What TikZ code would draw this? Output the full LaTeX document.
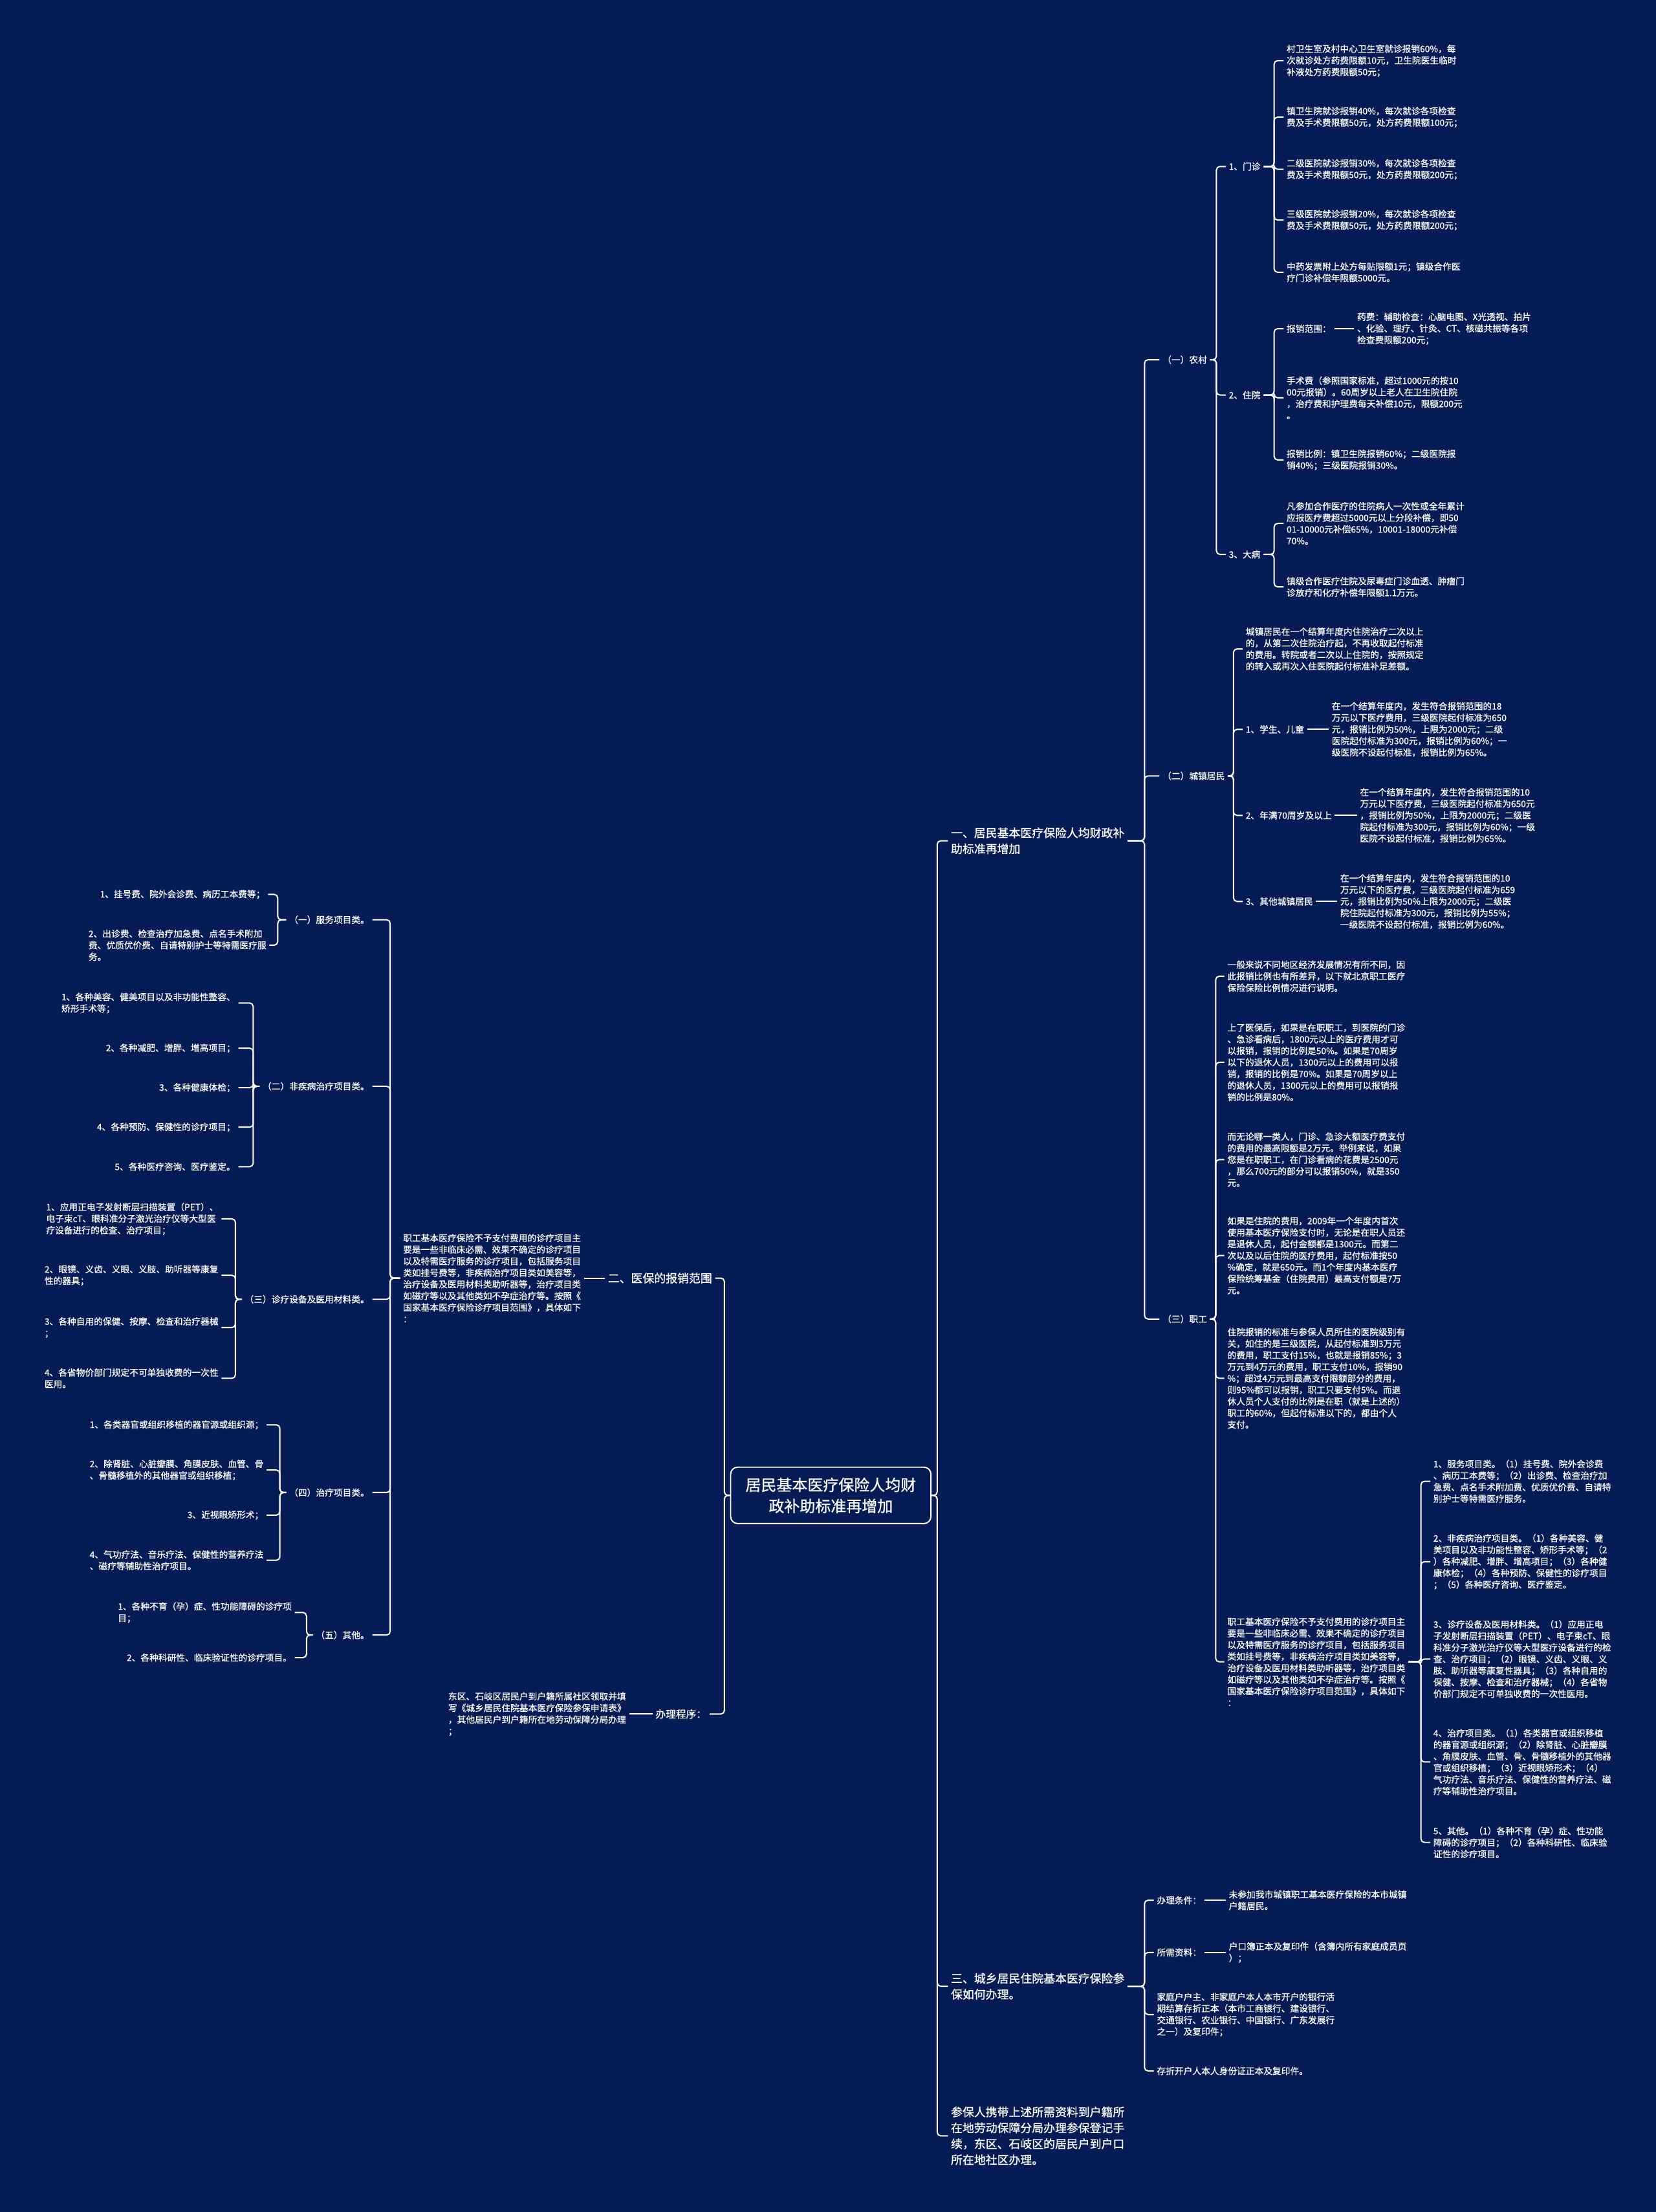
\documentclass[tikz,border=0pt]{standalone}
\usepackage{fontspec}
\setmainfont{Noto Sans CJK SC}[FakeBold=0.8]
\usepackage{tikz}
\usetikzlibrary{positioning}
\definecolor{bgnavy}{HTML}{061C56}

\begin{document}
\begin{tikzpicture}[x=1pt, y=-1pt,
  leaf/.style={text=white, font=\fontsize{6.3}{8.2}\selectfont, align=left, inner sep=2pt},
  big/.style={text=white, font=\fontsize{8.2}{11.3}\selectfont, align=left, inner sep=2pt},
  rootbox/.style={draw=white, line width=0.9pt, rounded corners=5pt, fill=bgnavy, text=white,
    font=\fontsize{11}{15}\selectfont, align=center, minimum width=142pt, minimum height=40pt},
  link/.style={draw=white, line width=0.9pt, rounded corners=2.5pt}]

  % Background and page size
  \fill[bgnavy] (0,0) rectangle (1174,1568);
  \useasboundingbox (0,0) rectangle (1174,1568);

  % Define coordinates for nodes
  \node[rootbox] (root) at (589,1060) {居民基本医疗保险人均财\\政补助标准再增加};

  \node[big, anchor=west] (b1) at (672,596) {一、居民基本医疗保险人均财政补\\助标准再增加};
  \node[big, anchor=west] (b3) at (672,1408) {三、城乡居民住院基本医疗保险参\\保如何办理。};
  \node[big, anchor=west] (b4) at (672,1514) {参保人携带上述所需资料到户籍所\\在地劳动保障分局办理参保登记手\\续，东区、石岐区的居民户到户口\\所在地社区办理。};
  \node[big, anchor=east] (b2) at (507,906) {二、医保的报销范围};
  \node[leaf, anchor=east, font=\fontsize{7.2}{9}\selectfont] (g) at (503,1215) {办理程序：};

  % first branch: rural
  \node[leaf, anchor=west] (s1) at (822,255) {（一）农村};
  \node[leaf, anchor=west] (s2) at (822,550) {（二）城镇居民};
  \node[leaf, anchor=west] (s3) at (822,935) {（三）职工};

  \node[leaf, anchor=west] (r1) at (869,118) {1、门诊};
  \node[leaf, anchor=west] (r2) at (869,280) {2、住院};
  \node[leaf, anchor=west] (r3) at (869,393) {3、大病};

  \node[leaf, anchor=west] (m1) at (910,43) {村卫生室及村中心卫生室就诊报销60\%，每\\次就诊处方药费限额10元，卫生院医生临时\\补液处方药费限额50元；};
  \node[leaf, anchor=west] (m2) at (910,83) {镇卫生院就诊报销40\%，每次就诊各项检查\\费及手术费限额50元，处方药费限额100元；};
  \node[leaf, anchor=west] (m3) at (910,120) {二级医院就诊报销30\%，每次就诊各项检查\\费及手术费限额50元，处方药费限额200元；};
  \node[leaf, anchor=west] (m4) at (910,156) {三级医院就诊报销20\%，每次就诊各项检查\\费及手术费限额50元，处方药费限额200元；};
  \node[leaf, anchor=west] (m5) at (910,193) {中药发票附上处方每贴限额1元；镇级合作医\\疗门诊补偿年限额5000元。};

  \node[leaf, anchor=west] (h1) at (910,233) {报销范围：};
  \node[leaf, anchor=west] (h1a) at (960,233) {药费：辅助检查：心脑电图、X光透视、拍片\\、化验、理疗、针灸、CT、核磁共振等各项\\检查费限额200元；};
  \node[leaf, anchor=west] (h2) at (910,282) {手术费（参照国家标准，超过1000元的按10\\00元报销）。60周岁以上老人在卫生院住院\\，治疗费和护理费每天补偿10元，限额200元\\。};
  \node[leaf, anchor=west] (h3) at (910,326) {报销比例：镇卫生院报销60\%；二级医院报\\销40\%；三级医院报销30\%。};

  \node[leaf, anchor=west] (d1) at (910,371) {凡参加合作医疗的住院病人一次性或全年累计\\应报医疗费超过5000元以上分段补偿，即50\\01-10000元补偿65\%，10001-18000元补偿\\70\%。};
  \node[leaf, anchor=west] (d2) at (910,416) {镇级合作医疗住院及尿毒症门诊血透、肿瘤门\\诊放疗和化疗补偿年限额1.1万元。};

  % first branch: urban residents
  \node[leaf, anchor=west] (t0) at (881,460) {城镇居民在一个结算年度内住院治疗二次以上\\的，从第二次住院治疗起，不再收取起付标准\\的费用。转院或者二次以上住院的，按照规定\\的转入或再次入住医院起付标准补足差额。};
  \node[leaf, anchor=west] (t1) at (881,517) {1、学生、儿童};
  \node[leaf, anchor=west] (t1a) at (942,517) {在一个结算年度内，发生符合报销范围的18\\万元以下医疗费用，三级医院起付标准为650\\元，报销比例为50\%，上限为2000元；二级\\医院起付标准为300元，报销比例为60\%；一\\级医院不设起付标准，报销比例为65\%。};
  \node[leaf, anchor=west] (t2) at (881,578) {2、年满70周岁及以上};
  \node[leaf, anchor=west] (t2a) at (962,578) {在一个结算年度内，发生符合报销范围的10\\万元以下医疗费，三级医院起付标准为650元\\，报销比例为50\%，上限为2000元；二级医\\院起付标准为300元，报销比例为60\%；一级\\医院不设起付标准，报销比例为65\%。};
  \node[leaf, anchor=west] (t3) at (881,639) {3、其他城镇居民};
  \node[leaf, anchor=west] (t3a) at (948,639) {在一个结算年度内，发生符合报销范围的10\\万元以下的医疗费，三级医院起付标准为659\\元，报销比例为50\%上限为2000元；二级医\\院住院起付标准为300元，报销比例为55\%；\\一级医院不设起付标准，报销比例为60\%。};

  % first branch: employees
  \node[leaf, anchor=west] (w1) at (868,692) {一般来说不同地区经济发展情况有所不同，因\\此报销比例也有所差异，以下就北京职工医疗\\保险保险比例情况进行说明。};
  \node[leaf, anchor=west] (w2) at (868,753) {上了医保后，如果是在职职工，到医院的门诊\\、急诊看病后，1800元以上的医疗费用才可\\以报销，报销的比例是50\%。如果是70周岁\\以下的退休人员，1300元以上的费用可以报\\销，报销的比例是70\%。如果是70周岁以上\\的退休人员，1300元以上的费用可以报销报\\销的比例是80\%。};
  \node[leaf, anchor=west] (w3) at (868,822) {而无论哪一类人，门诊、急诊大额医疗费支付\\的费用的最高限额是2万元。举例来说，如果\\您是在职职工，在门诊看病的花费是2500元\\，那么700元的部分可以报销50\%，就是350\\元。};
  \node[leaf, anchor=west] (w4) at (868,890) {如果是住院的费用，2009年一个年度内首次\\使用基本医疗保险支付时，无论是在职人员还\\是退休人员，起付金额都是1300元。而第二\\次以及以后住院的医疗费用，起付标准按50\\\%确定，就是650元。而1个年度内基本医疗\\保险统筹基金（住院费用）最高支付额是7万\\元。};
  \node[leaf, anchor=west] (w5) at (868,977) {住院报销的标准与参保人员所住的医院级别有\\关，如住的是三级医院，从起付标准到3万元\\的费用，职工支付15\%，也就是报销85\%；3\\万元到4万元的费用，职工支付10\%，报销90\\\%；超过4万元到最高支付限额部分的费用，\\则95\%都可以报销，职工只要支付5\%。而退\\休人员个人支付的比例是在职（就是上述的）\\职工的60\%，但起付标准以下的，都由个人\\支付。};
  \node[leaf, anchor=west] (w6) at (868,1178) {职工基本医疗保险不予支付费用的诊疗项目主\\要是一些非临床必需、效果不确定的诊疗项目\\以及特需医疗服务的诊疗项目，包括服务项目\\类如挂号费等，非疾病治疗项目类如美容等，\\治疗设备及医用材料类助听器等，治疗项目类\\如磁疗等以及其他类如不孕症治疗等。按照《\\国家基本医疗保险诊疗项目范围》，具体如下\\：};

  \node[leaf, anchor=west] (x1) at (1014,1050) {1、服务项目类。（1）挂号费、院外会诊费\\、病历工本费等；（2）出诊费、检查治疗加\\急费、点名手术附加费、优质优价费、自请特\\别护士等特需医疗服务。};
  \node[leaf, anchor=west] (x2) at (1014,1107) {2、非疾病治疗项目类。（1）各种美容、健\\美项目以及非功能性整容、矫形手术等；（2\\）各种减肥、增胖、增高项目；（3）各种健\\康体检；（4）各种预防、保健性的诊疗项目\\；（5）各种医疗咨询、医疗鉴定。};
  \node[leaf, anchor=west] (x3) at (1014,1176) {3、诊疗设备及医用材料类。（1）应用正电\\子发射断层扫描装置（PET）、电子束cT、眼\\科准分子激光治疗仪等大型医疗设备进行的检\\查、治疗项目；（2）眼镜、义齿、义眼、义\\肢、助听器等康复性器具；（3）各种自用的\\保健、按摩、检查和治疗器械；（4）各省物\\价部门规定不可单独收费的一次性医用。};
  \node[leaf, anchor=west] (x4) at (1014,1249) {4、治疗项目类。（1）各类器官或组织移植\\的器官源或组织源；（2）除肾脏、心脏瓣膜\\、角膜皮肤、血管、骨、骨髓移植外的其他器\\官或组织移植；（3）近视眼矫形术；（4）\\气功疗法、音乐疗法、保健性的营养疗法、磁\\疗等辅助性治疗项目。};
  \node[leaf, anchor=west] (x5) at (1014,1306) {5、其他。（1）各种不育（孕）症、性功能\\障碍的诊疗项目；（2）各种科研性、临床验\\证性的诊疗项目。};

  % third branch
  \node[leaf, anchor=west] (p1) at (818,1347) {办理条件：};
  \node[leaf, anchor=west] (p1a) at (869,1347) {未参加我市城镇职工基本医疗保险的本市城镇\\户籍居民。};
  \node[leaf, anchor=west] (p2) at (818,1384) {所需资料：};
  \node[leaf, anchor=west] (p2a) at (869,1384) {户口簿正本及复印件（含簿内所有家庭成员页\\）；};
  \node[leaf, anchor=west] (p3) at (818,1428) {家庭户户主、非家庭户本人本市开户的银行活\\期结算存折正本（本市工商银行、建设银行、\\交通银行、农业银行、中国银行、广东发展行\\之一）及复印件；};
  \node[leaf, anchor=west] (p4) at (818,1468) {存折开户人本人身份证正本及复印件。};

  % second branch (left)
  \node[leaf, anchor=east] (e0) at (414,906) {职工基本医疗保险不予支付费用的诊疗项目主\\要是一些非临床必需、效果不确定的诊疗项目\\以及特需医疗服务的诊疗项目，包括服务项目\\类如挂号费等，非疾病治疗项目类如美容等，\\治疗设备及医用材料类助听器等，治疗项目类\\如磁疗等以及其他类如不孕症治疗等。按照《\\国家基本医疗保险诊疗项目范围》，具体如下\\：};

  \node[leaf, anchor=east] (l1) at (264,652) {（一）服务项目类。};
  \node[leaf, anchor=east] (l2) at (264,770) {（二）非疾病治疗项目类。};
  \node[leaf, anchor=east] (l3) at (264,921) {（三）诊疗设备及医用材料类。};
  \node[leaf, anchor=east] (l4) at (264,1058) {（四）治疗项目类。};
  \node[leaf, anchor=east] (l5) at (264,1159) {（五）其他。};

  \node[leaf, anchor=east] (l1a) at (190,634) {1、挂号费、院外会诊费、病历工本费等；};
  \node[leaf, anchor=east] (l1b) at (191,670) {2、出诊费、检查治疗加急费、点名手术附加\\费、优质优价费、自请特别护士等特需医疗服\\务。};

  \node[leaf, anchor=east] (l2a) at (169,711) {1、各种美容、健美项目以及非功能性整容、\\矫形手术等；};
  \node[leaf, anchor=east] (l2b) at (169,743) {2、各种减肥、增胖、增高项目；};
  \node[leaf, anchor=east] (l2c) at (169,771) {3、各种健康体检；};
  \node[leaf, anchor=east] (l2d) at (169,799) {4、各种预防、保健性的诊疗项目；};
  \node[leaf, anchor=east] (l2e) at (169,827) {5、各种医疗咨询、医疗鉴定。};

  \node[leaf, anchor=east] (l3a) at (157,864) {1、应用正电子发射断层扫描装置（PET）、\\电子束cT、眼科准分子激光治疗仪等大型医\\疗设备进行的检查、治疗项目；};
  \node[leaf, anchor=east] (l3b) at (157,904) {2、眼镜、义齿、义眼、义肢、助听器等康复\\性的器具；};
  \node[leaf, anchor=east] (l3c) at (157,941) {3、各种自用的保健、按摩、检查和治疗器械\\；};
  \node[leaf, anchor=east] (l3d) at (157,977) {4、各省物价部门规定不可单独收费的一次性\\医用。};

  \node[leaf, anchor=east] (l4a) at (189,1010) {1、各类器官或组织移植的器官源或组织源；};
  \node[leaf, anchor=east] (l4b) at (189,1042) {2、除肾脏、心脏瓣膜、角膜皮肤、血管、骨\\、骨髓移植外的其他器官或组织移植；};
  \node[leaf, anchor=east] (l4c) at (189,1074) {3、近视眼矫形术；};
  \node[leaf, anchor=east] (l4d) at (189,1106) {4、气功疗法、音乐疗法、保健性的营养疗法\\、磁疗等辅助性治疗项目。};

  \node[leaf, anchor=east] (l5a) at (209,1143) {1、各种不育（孕）症、性功能障碍的诊疗项\\目；};
  \node[leaf, anchor=east] (l5b) at (209,1175) {2、各种科研性、临床验证性的诊疗项目。};

  \node[leaf, anchor=east] (g1) at (446,1215) {东区、石岐区居民户到户籍所属社区领取并填\\写《城乡居民住院基本医疗保险参保申请表》\\，其他居民户到户籍所在地劳动保障分局办理\\；};

  % Draw connectors between nodes
  \draw[link] (root.east) -- ++(4,0) |- (b1.west);
  \draw[link] (root.east) -- ++(4,0) |- (b3.west);
  \draw[link] (root.east) -- ++(4,0) |- (b4.west);
  \draw[link] (root.west) -- ++(-4,0) |- (b2.east);
  \draw[link] (root.west) -- ++(-4,0) |- (g.east);

  \draw[link] (b1.east) -- ++(12,0) |- (s1.west);
  \draw[link] (b1.east) -- ++(12,0) |- (s2.west);
  \draw[link] (b1.east) -- ++(12,0) |- (s3.west);

  \draw[link] (s1.east) -- ++(4.5,0) |- (r1.west);
  \draw[link] (s1.east) -- ++(4.5,0) |- (r2.west);
  \draw[link] (s1.east) -- ++(4.5,0) |- (r3.west);

  \draw[link] (r1.east) -- ++(7.5,0) |- (m1.west);
  \draw[link] (r1.east) -- ++(7.5,0) |- (m2.west);
  \draw[link] (r1.east) -- ++(7.5,0) |- (m3.west);
  \draw[link] (r1.east) -- ++(7.5,0) |- (m4.west);
  \draw[link] (r1.east) -- ++(7.5,0) |- (m5.west);

  \draw[link] (r2.east) -- ++(7.5,0) |- (h1.west);
  \draw[link] (r2.east) -- ++(7.5,0) |- (h2.west);
  \draw[link] (r2.east) -- ++(7.5,0) |- (h3.west);
  \draw[link] (h1.east) -- (h1a.west);

  \draw[link] (r3.east) -- ++(7.5,0) |- (d1.west);
  \draw[link] (r3.east) -- ++(7.5,0) |- (d2.west);

  \draw[link] (s2.east) -- ++(4,0) |- (t0.west);
  \draw[link] (s2.east) -- ++(4,0) |- (t1.west);
  \draw[link] (s2.east) -- ++(4,0) |- (t2.west);
  \draw[link] (s2.east) -- ++(4,0) |- (t3.west);
  \draw[link] (t1.east) -- (t1a.west);
  \draw[link] (t2.east) -- (t2a.west);
  \draw[link] (t3.east) -- (t3a.west);

  \draw[link] (s3.east) -- ++(4,0) |- (w1.west);
  \draw[link] (s3.east) -- ++(4,0) |- (w2.west);
  \draw[link] (s3.east) -- ++(4,0) |- (w3.west);
  \draw[link] (s3.east) -- ++(4,0) |- (w4.west);
  \draw[link] (s3.east) -- ++(4,0) |- (w5.west);
  \draw[link] (s3.east) -- ++(4,0) |- (w6.west);

  \draw[link] (w6.east) -- ++(9,0) |- (x1.west);
  \draw[link] (w6.east) -- ++(9,0) |- (x2.west);
  \draw[link] (w6.east) -- ++(9,0) |- (x3.west);
  \draw[link] (w6.east) -- ++(9,0) |- (x4.west);
  \draw[link] (w6.east) -- ++(9,0) |- (x5.west);

  \draw[link] (b3.east) -- ++(12,0) |- (p1.west);
  \draw[link] (b3.east) -- ++(12,0) |- (p2.west);
  \draw[link] (b3.east) -- ++(12,0) |- (p3.west);
  \draw[link] (b3.east) -- ++(12,0) |- (p4.west);
  \draw[link] (p1.east) -- (p1a.west);
  \draw[link] (p2.east) -- (p2a.west);

  \draw[link] (b2.west) -- (e0.east);
  \draw[link] (g.west) -- (g1.east);

  \draw[link] (e0.west) -- ++(-7,0) |- (l1.east);
  \draw[link] (e0.west) -- ++(-7,0) |- (l2.east);
  \draw[link] (e0.west) -- ++(-7,0) |- (l3.east);
  \draw[link] (e0.west) -- ++(-7,0) |- (l4.east);
  \draw[link] (e0.west) -- ++(-7,0) |- (l5.east);

  \draw[link] (l1.west) -- ++(-6,0) |- (l1a.east);
  \draw[link] (l1.west) -- ++(-6,0) |- (l1b.east);

  \draw[link] (l2.west) -- ++(-4.5,0) |- (l2a.east);
  \draw[link] (l2.west) -- ++(-4.5,0) |- (l2b.east);
  \draw[link] (l2.west) -- ++(-4.5,0) |- (l2c.east);
  \draw[link] (l2.west) -- ++(-4.5,0) |- (l2d.east);
  \draw[link] (l2.west) -- ++(-4.5,0) |- (l2e.east);

  \draw[link] (l3.west) -- ++(-4.5,0) |- (l3a.east);
  \draw[link] (l3.west) -- ++(-4.5,0) |- (l3b.east);
  \draw[link] (l3.west) -- ++(-4.5,0) |- (l3c.east);
  \draw[link] (l3.west) -- ++(-4.5,0) |- (l3d.east);

  \draw[link] (l4.west) -- ++(-4.5,0) |- (l4a.east);
  \draw[link] (l4.west) -- ++(-4.5,0) |- (l4b.east);
  \draw[link] (l4.west) -- ++(-4.5,0) |- (l4c.east);
  \draw[link] (l4.west) -- ++(-4.5,0) |- (l4d.east);

  \draw[link] (l5.west) -- ++(-4.5,0) |- (l5a.east);
  \draw[link] (l5.west) -- ++(-4.5,0) |- (l5b.east);
\end{tikzpicture}
\end{document}
